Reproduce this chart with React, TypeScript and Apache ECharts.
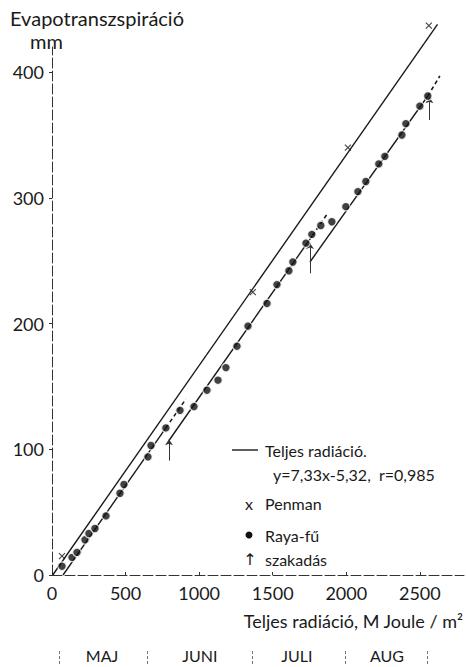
import React, { useEffect, useRef } from "react";
import * as echarts from "echarts";

// ---- data ----
const xTicks = [0, 500, 1000, 1500, 2000, 2500];
const yTicks = [0, 100, 200, 300, 400];

// Raya-fű measured points (radiation MJ/m², evapotranspiration mm)
const rayaX = [68, 136, 170, 224, 251, 292, 367, 462, 489, 652, 673, 774, 870, 965, 1053, 1128, 1182, 1257, 1332, 1461, 1529, 1610, 1637, 1726, 1766, 1827, 1902, 1997, 2079, 2133, 2221, 2262, 2378, 2405, 2500, 2554];
const rayaY = [7, 14, 18, 28, 33, 37, 47, 65, 72, 94, 103, 117, 131, 134, 147, 155, 165, 182, 198, 216, 231, 242, 249, 264, 271, 278, 281, 293, 305, 313, 327, 333, 350, 359, 373, 381];

// Penman points
const penmanX = [68, 1365, 2011, 2561];
const penmanY = [15, 225, 340, 437];

// Regression line "Teljes radiáció"
const teljesLine = [[5, 0], [2620, 438]];

// Raya-fű fitted segments (solid) and their dashed continuations
const segA = [[75, 0], [774, 117]];
const segAExt = [[774, 117], [910, 140]];
const segB = [[795, 107], [1770, 270]];
const segBExt = [[1770, 270], [1875, 288]];
const segC = [[1753, 249], [2554, 381]];
const segCExt = [[2554, 381], [2636, 397]];

// szakadás (break) arrows: x, y from, y to
const breakX = [795, 1753, 2565];
const breakY0 = [91, 240, 362];
const breakY1 = [108, 264, 380];

// Months along the radiation axis
const monthNames = ["MAJ", "JUNI", "JULI", "AUG"];
const monthCenters = [340, 1005, 1664, 2276];
const monthBounds = [48, 645, 1359, 1990, 2548];

const FONT = "Lato";
const INK = "#1a1a1a";

export default function App() {
  const ref = useRef<HTMLDivElement>(null);

  useEffect(() => {
    if (!ref.current) return;
    const chart = echarts.init(ref.current, null, { renderer: "svg" });

    const solid = (data: number[][]) => ({
      type: "line",
      data,
      symbol: "none",
      clip: false,
      silent: true,
      lineStyle: { color: INK, width: 1.4 },
      z: 2,
    });
    const dashed = (data: number[][]) => ({
      type: "line",
      data,
      symbol: "none",
      clip: false,
      silent: true,
      lineStyle: { color: INK, width: 1.6, type: [4, 3] },
      z: 2,
    });

    const option: any = {
      animation: false,
      backgroundColor: "#ffffff",
      textStyle: { fontFamily: FONT, color: INK },
      grid: { left: 52, right: 2, top: 47, bottom: 92 },
      xAxis: [
        {
          type: "value",
          min: 0,
          max: 2800,
          interval: 500,
          splitLine: { show: false },
          axisLine: { show: true, lineStyle: { color: "#333", width: 1, type: [10, 3] } },
          axisTick: { show: true, inside: true, length: 3, customValues: xTicks, lineStyle: { color: "#333" } },
          axisLabel: {
            customValues: xTicks,
            formatter: (v: number) => String(v),
            margin: 9,
            fontSize: 18,
            fontFamily: FONT,
            color: INK,
          },
        },
        {
          type: "value",
          min: 0,
          max: 2800,
          position: "bottom",
          offset: 89,
          splitLine: { show: false },
          axisLine: { show: false },
          axisTick: {
            show: true,
            inside: true,
            length: 15,
            customValues: monthBounds,
            lineStyle: { color: "#777", width: 1, type: [3, 2] },
          },
          axisLabel: {
            inside: true,
            margin: 1,
            customValues: monthCenters,
            formatter: (v: number) => {
              const i = monthCenters.indexOf(v);
              return i >= 0 ? monthNames[i] : "";
            },
            fontSize: 16,
            fontFamily: FONT,
            color: INK,
          },
        },
      ],
      yAxis: {
        type: "value",
        min: 0,
        max: 420,
        interval: 100,
        splitLine: { show: false },
        axisLine: { show: true, lineStyle: { color: "#333", width: 1, type: [10, 3] } },
        axisTick: { show: true, length: 3, customValues: yTicks, lineStyle: { color: "#333" } },
        axisLabel: {
          customValues: yTicks,
          formatter: (v: number) => String(v),
          margin: 8,
          fontSize: 18,
          fontFamily: FONT,
          color: INK,
        },
      },
      series: [
        solid(teljesLine),
        solid(segA),
        dashed(segAExt),
        solid(segB),
        dashed(segBExt),
        solid(segC),
        dashed(segCExt),
        {
          type: "lines",
          coordinateSystem: "cartesian2d",
          silent: true,
          symbol: ["none", "arrow"],
          symbolSize: 6,
          lineStyle: { color: "#333", width: 1, opacity: 1 },
          data: breakX.map((x, i) => ({ coords: [[x, breakY0[i]], [x, breakY1[i]]] })),
          z: 3,
        },
        {
          name: "Penman",
          type: "scatter",
          clip: false,
          symbol: "path://M0,0L10,10M10,0L0,10",
          symbolSize: 6,
          itemStyle: { color: "none", borderColor: INK, borderWidth: 1.2 },
          data: penmanX.map((x, i) => [x, penmanY[i]]),
          z: 4,
        },
        {
          name: "Raya-fű",
          type: "scatter",
          clip: false,
          symbol: "circle",
          symbolSize: 8.5,
          itemStyle: { color: "#111", borderColor: "#fff", borderWidth: 1.2 },
          data: rayaX.map((x, i) => [x, rayaY[i]]),
          z: 5,
        },
      ],
      graphic: [
        {
          type: "text",
          left: 10,
          top: 8,
          style: { text: "Evapotranszspiráció", font: `20px ${FONT}`, fill: INK },
        },
        {
          type: "text",
          left: 30,
          top: 31,
          style: { text: "mm", font: `20px ${FONT}`, fill: INK },
        },
        {
          type: "text",
          x: 463,
          y: 621,
          style: {
            text: "Teljes radiáció, M Joule / m²",
            font: `18px ${FONT}`,
            fill: INK,
            align: "right",
            verticalAlign: "middle",
          },
        },
        // legend
        {
          type: "line",
          shape: { x1: 232, y1: 450, x2: 258, y2: 450 },
          style: { stroke: INK, lineWidth: 1.4 },
        },
        {
          type: "text",
          x: 265,
          y: 450,
          style: { text: "Teljes radiáció.", font: `16px ${FONT}`, fill: INK, verticalAlign: "middle" },
        },
        {
          type: "text",
          x: 273,
          y: 474,
          style: { text: "y=7,33x-5,32,  r=0,985", font: `16px ${FONT}`, fill: INK, verticalAlign: "middle" },
        },
        {
          type: "text",
          x: 249,
          y: 503,
          style: { text: "x", font: `16px ${FONT}`, fill: INK, align: "center", verticalAlign: "middle" },
        },
        {
          type: "text",
          x: 265,
          y: 503,
          style: { text: "Penman", font: `16px ${FONT}`, fill: INK, verticalAlign: "middle" },
        },
        {
          type: "circle",
          shape: { cx: 249, cy: 535, r: 3.5 },
          style: { fill: "#111" },
        },
        {
          type: "text",
          x: 265,
          y: 535,
          style: { text: "Raya-fű", font: `16px ${FONT}`, fill: INK, verticalAlign: "middle" },
        },
        {
          type: "text",
          x: 250,
          y: 559,
          style: { text: "↑", font: `16px "DejaVu Sans"`, fill: INK, align: "center", verticalAlign: "middle" },
        },
        {
          type: "text",
          x: 265,
          y: 559,
          style: { text: "szakadás", font: `16px ${FONT}`, fill: INK, verticalAlign: "middle" },
        },
      ],
    };

    chart.setOption(option);
    return () => chart.dispose();
  }, []);

  return (
    <div
      ref={ref}
      style={{ position: "fixed", left: 0, top: 0, width: 466, height: 667, background: "#fff" }}
    />
  );
}
